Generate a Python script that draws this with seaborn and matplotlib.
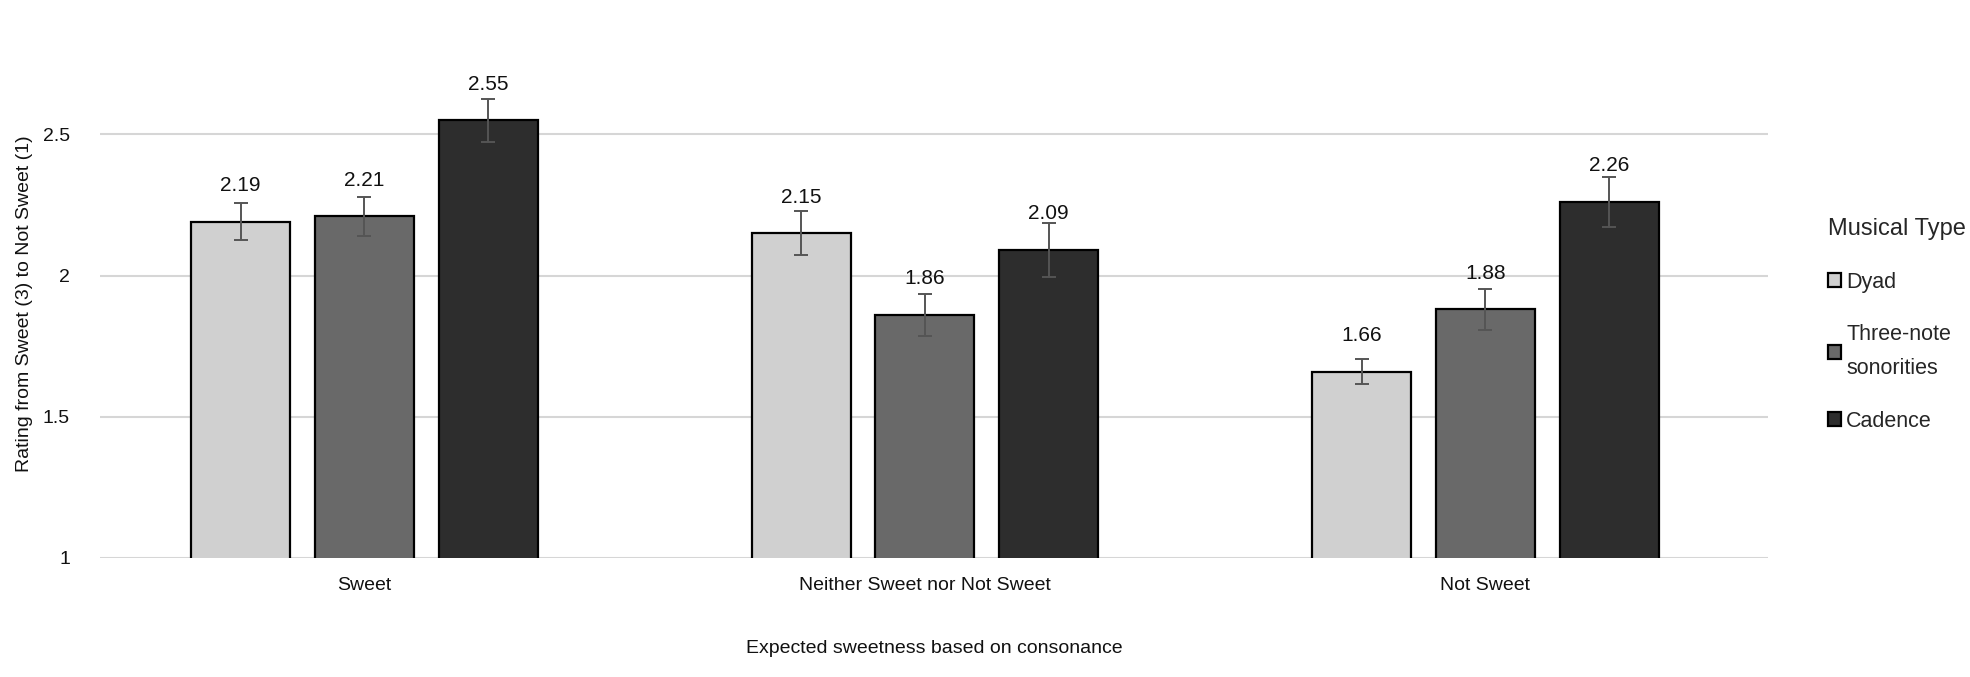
import matplotlib
matplotlib.use("Agg")
import matplotlib.pyplot as plt
import seaborn as sns
import pandas as pd

# values
categories = ["Sweet", "Neither Sweet nor Not Sweet", "Not Sweet"]
types = ["Dyad", "Three-note sonorities", "Cadence"]
dyad = [2.19, 2.15, 1.66]
three_note = [2.21, 1.86, 1.88]
cadence = [2.55, 2.09, 2.26]
dyad_err = [0.065, 0.079, 0.045]
three_note_err = [0.069, 0.075, 0.073]
cadence_err = [0.076, 0.096, 0.089]

colors = ["#d0d0d0", "#696969", "#2d2d2d"]

rows = []
for t, vals, errs in zip(types, [dyad, three_note, cadence], [dyad_err, three_note_err, cadence_err]):
    for c, v, e in zip(categories, vals, errs):
        rows.append({"Category": c, "Type": t, "Rating": v, "Err": e})
df = pd.DataFrame(rows)

sns.set_style("white")
plt.rcParams["font.family"] = ["Liberation Sans", "DejaVu Sans"]

fig = plt.figure(figsize=(19.7, 6.77), dpi=100)
ax = fig.add_axes([0.051, 0.1758, 0.8464, 0.751])

sns.barplot(data=df, x="Category", y="Rating", hue="Type", order=categories,
            hue_order=types, palette=colors, width=0.663, gap=0.2,
            errorbar=None, edgecolor="black", linewidth=1.6, ax=ax, zorder=3)

# error bars and value labels on top of each bar
for cont, t in zip(ax.containers, types):
    sub = df[df["Type"] == t].set_index("Category").loc[categories]
    xs = [p.get_x() + p.get_width() / 2 for p in cont.patches]
    ax.errorbar(xs, sub["Rating"], yerr=sub["Err"], fmt="none", ecolor="#555555",
                elinewidth=1.4, capsize=5, capthick=1.4, zorder=4)
    for x, v in zip(xs, sub["Rating"]):
        ax.annotate(f"{v:.2f}", (x, v), xytext=(0, 26), textcoords="offset points",
                    ha="center", va="center", fontsize=15, color="#111111")

ax.set_ylim(1, 2.8)
ax.set_xlim(-0.471, 2.504)
ax.set_yticks([1, 1.5, 2, 2.5])
ax.set_yticklabels(["1", "1.5", "2", "2.5"])
ax.yaxis.grid(True, color="#d6d6d6", linewidth=1.5, zorder=0)
ax.set_axisbelow(True)
for s in ax.spines.values():
    s.set_visible(False)
ax.tick_params(axis="both", length=0, labelsize=14, colors="#111111")
ax.tick_params(axis="x", pad=14)
ax.tick_params(axis="y", pad=22)

ax.set_xlabel("Expected sweetness based on consonance", fontsize=14, labelpad=33, color="#111111")
ax.set_ylabel("Rating from Sweet (3) to Not Sweet (1)", fontsize=14, labelpad=7, color="#111111")

handles, labels = ax.get_legend_handles_labels()
ax.get_legend().remove()
leg = fig.legend(handles, ["Dyad", "Three-note\nsonorities", "Cadence"],
                 title="Musical Type", loc="upper left",
                 bbox_to_anchor=(0.918, 0.706), frameon=False,
                 fontsize=15.5, title_fontsize=17, handlelength=0.6, handleheight=0.6,
                 handletextpad=0.25, labelspacing=1.45, alignment="left")
leg.get_texts()[1].set_linespacing(1.85)

fig.savefig("out.png", dpi=100)
